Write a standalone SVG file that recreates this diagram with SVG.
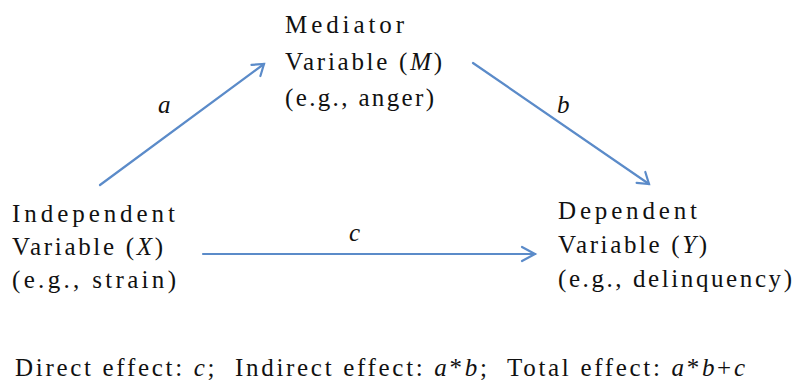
<svg xmlns="http://www.w3.org/2000/svg" width="796" height="390" viewBox="0 0 796 390">
<rect width="796" height="390" fill="#fff"/>
<g id="connectors" stroke="#5B8BC9" stroke-width="2.2" fill="none" stroke-linecap="round">
<line x1="100" y1="185" x2="264" y2="64"/>
<path d="M251.5,64.9 L264,64 L260.4,76"/>
<line x1="473" y1="63" x2="649" y2="184"/>
<path d="M645.3,172 L649,184 L636.6,182.8"/>
<line x1="203" y1="254" x2="535" y2="254"/>
<path d="M522,247 L535,254 L522,261"/>
</g>
<g id="labels">
<text x="158" y="113" font-family="Liberation Serif" font-size="25" font-style="italic" fill="#111">a</text>
<text x="557" y="113" font-family="Liberation Serif" font-size="25" font-style="italic" fill="#111">b</text>
<text x="349" y="241" font-family="Liberation Serif" font-size="25" font-style="italic" fill="#111">c</text>
</g>
<g id="mediator">
<text x="285" y="33" font-family="Liberation Serif" font-size="25" fill="#111" textLength="119" lengthAdjust="spacing">Mediator</text>
<text x="285" y="70" font-family="Liberation Serif" font-size="25" fill="#111" textLength="157" lengthAdjust="spacing">Variable (<tspan font-style="italic">M</tspan>)</text>
<text x="285" y="106" font-family="Liberation Serif" font-size="25" fill="#111" textLength="149" lengthAdjust="spacing">(e.g., anger)</text>
</g>
<g id="independent">
<text x="12" y="222" font-family="Liberation Serif" font-size="25" fill="#111" textLength="163" lengthAdjust="spacing">Independent</text>
<text x="12" y="255" font-family="Liberation Serif" font-size="25" fill="#111" textLength="151" lengthAdjust="spacing">Variable (<tspan font-style="italic">X</tspan>)</text>
<text x="12" y="288" font-family="Liberation Serif" font-size="25" fill="#111" textLength="164" lengthAdjust="spacing">(e.g., strain)</text>
</g>
<g id="dependent">
<text x="558" y="219" font-family="Liberation Serif" font-size="25" fill="#111" textLength="139" lengthAdjust="spacing">Dependent</text>
<text x="558" y="253" font-family="Liberation Serif" font-size="25" fill="#111" textLength="149" lengthAdjust="spacing">Variable (<tspan font-style="italic">Y</tspan>)</text>
<text x="558" y="287" font-family="Liberation Serif" font-size="25" fill="#111" textLength="234" lengthAdjust="spacing">(e.g., delinquency)</text>
</g>
<g id="legend">
<text x="15" y="376" font-family="Liberation Serif" font-size="25" fill="#111" textLength="730" lengthAdjust="spacing" xml:space="preserve">Direct effect: <tspan font-style="italic">c</tspan>;  Indirect effect: <tspan font-style="italic">a</tspan>*<tspan font-style="italic">b</tspan>;  Total effect: <tspan font-style="italic">a</tspan>*<tspan font-style="italic">b</tspan>+<tspan font-style="italic">c</tspan></text>
</g>
</svg>
